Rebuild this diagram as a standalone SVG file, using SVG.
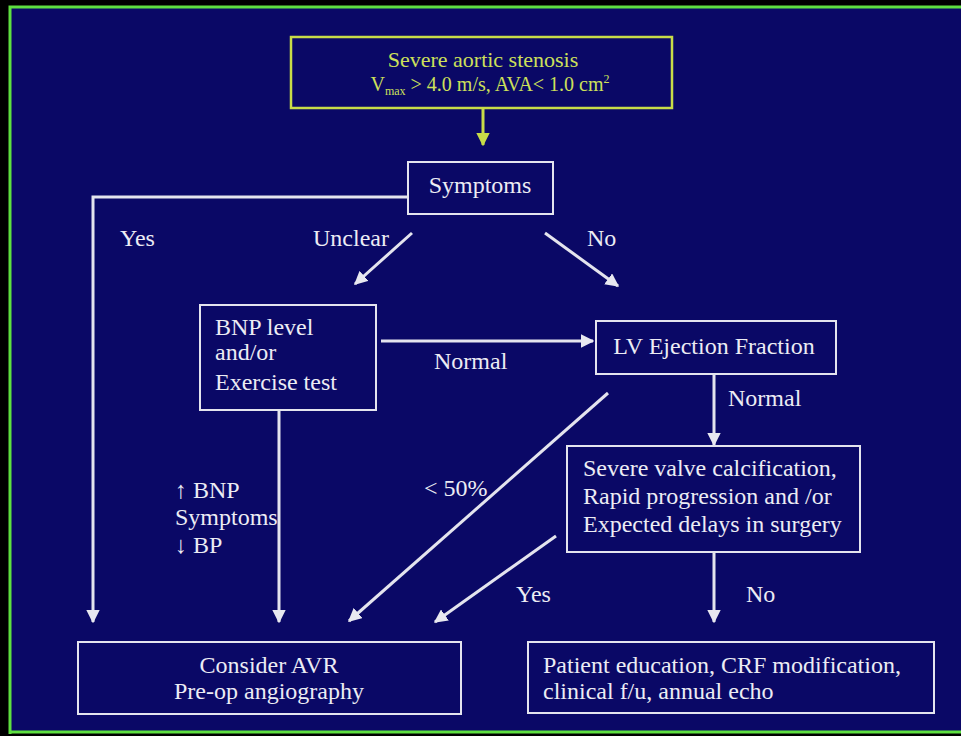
<svg xmlns="http://www.w3.org/2000/svg" width="961" height="736" viewBox="0 0 961 736">
<style>
.t{font-family:"Liberation Serif","Times New Roman",serif;font-size:24px;fill:#ececf4}
.y{font-family:"Liberation Serif","Times New Roman",serif;fill:#cde05a}
.box{fill:none;stroke:#e4e4ee;stroke-width:2}
.ln{fill:none;stroke:#e4e4ee;stroke-width:3;marker-end:url(#ah)}
</style>
<defs>
<marker id="ah" viewBox="0 0 10 10" refX="9" refY="5" markerWidth="4.5" markerHeight="4.5" orient="auto" markerUnits="strokeWidth">
<path d="M0,0 L10,5 L0,10 z" fill="#e8e8f0"/>
</marker>
<marker id="ahy" viewBox="0 0 10 10" refX="9" refY="5" markerWidth="4.5" markerHeight="4.5" orient="auto" markerUnits="strokeWidth">
<path d="M0,0 L10,5 L0,10 z" fill="#c8dc48"/>
</marker>
</defs>
<rect x="0" y="0" width="961" height="736" fill="#000000"/>
<rect x="10" y="7" width="960" height="725" fill="#0a0866"/>
<path d="M10,734 L10,7 L961,7" fill="none" stroke="#5ee040" stroke-width="3"/>
<path d="M10,732 L961,732" fill="none" stroke="#5ee040" stroke-width="3"/>

<g id="connectors">
<line x1="483" y1="109" x2="483" y2="145" stroke="#c8dc48" stroke-width="3" marker-end="url(#ahy)"/>
<polyline class="ln" points="408,197 93,197 93,622"/>
<line class="ln" x1="412" y1="233" x2="355" y2="284"/>
<line class="ln" x1="545" y1="233" x2="618" y2="286"/>
<line class="ln" x1="381" y1="341" x2="593" y2="341"/>
<line class="ln" x1="714" y1="375" x2="714" y2="445"/>
<line class="ln" x1="608" y1="393" x2="349" y2="621"/>
<line class="ln" x1="556" y1="536" x2="435" y2="622"/>
<line class="ln" x1="714" y1="553" x2="714" y2="622"/>
<line class="ln" x1="279" y1="411" x2="279" y2="622"/>
</g>

<g id="labels">
<text class="t" x="120" y="246">Yes</text>
<text class="t" x="313" y="246">Unclear</text>
<text class="t" x="587" y="246">No</text>
<text class="t" x="434" y="369">Normal</text>
<text class="t" x="728" y="406">Normal</text>
<text class="t" x="424" y="496">&lt; 50%</text>
<text class="t" x="516" y="602">Yes</text>
<text class="t" x="746" y="602">No</text>
<text class="t" x="175" y="498">↑ BNP</text>
<text class="t" x="175" y="525">Symptoms</text>
<text class="t" x="175" y="553">↓ BP</text>
</g>

<g id="n-severe">
<rect x="291" y="37" width="381" height="71" fill="none" stroke="#c8dc48" stroke-width="2.5"/>
<text class="y" x="483" y="67" font-size="22" text-anchor="middle">Severe aortic stenosis</text>
<text class="y" x="490" y="91" font-size="20" text-anchor="middle">V<tspan font-size="12" dy="4">max</tspan><tspan dy="-4"> &gt; 4.0 m/s, AVA&lt; 1.0 cm</tspan><tspan font-size="12" dy="-8">2</tspan></text>
</g>

<g id="n-symptoms">
<rect class="box" x="408" y="162" width="145" height="52"/>
<text class="t" x="480" y="193" text-anchor="middle">Symptoms</text>
</g>

<g id="n-bnp">
<rect class="box" x="200" y="305" width="176" height="105"/>
<text class="t" x="215" y="335">BNP level</text>
<text class="t" x="215" y="360">and/or</text>
<text class="t" x="215" y="390">Exercise test</text>
</g>

<g id="n-lvef">
<rect class="box" x="596" y="321" width="240" height="53"/>
<text class="t" x="714" y="354" text-anchor="middle">LV Ejection Fraction</text>
</g>

<g id="n-calc">
<rect class="box" x="567" y="446" width="293" height="106"/>
<text class="t" x="583" y="476">Severe valve calcification,</text>
<text class="t" x="583" y="504">Rapid progression and /or</text>
<text class="t" x="583" y="532">Expected delays in surgery</text>
</g>

<g id="n-avr">
<rect class="box" x="78" y="642" width="383" height="72"/>
<text class="t" x="269" y="673" text-anchor="middle">Consider AVR</text>
<text class="t" x="269" y="699" text-anchor="middle">Pre-op angiography</text>
</g>

<g id="n-patient">
<rect class="box" x="528" y="642" width="406" height="71"/>
<text class="t" x="543" y="673">Patient education, CRF modification,</text>
<text class="t" x="543" y="699">clinical f/u, annual echo</text>
</g>
</svg>
